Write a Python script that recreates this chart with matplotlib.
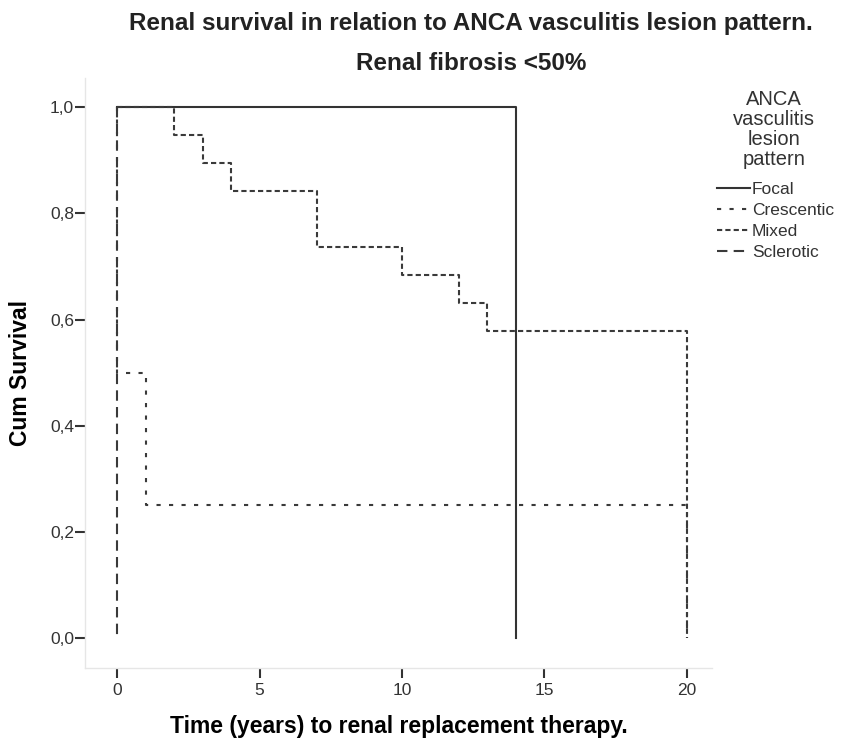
import matplotlib.pyplot as plt

plt.rcParams['font.family'] = ['Liberation Sans', 'DejaVu Sans']

# Kaplan-Meier step data (time in years, cumulative survival)
focal_t = [0, 14, 14]
focal_s = [1.0, 1.0, 0.0]

cresc_t = [0, 0, 1, 20]
cresc_s = [1.0, 0.5, 0.25, 0.0]

mixed_t = [0, 2, 3, 4, 7, 10, 12, 13, 20]
mixed_s = [1.0, 18/19, 17/19, 16/19, 14/19, 13/19, 12/19, 11/19, 0.0]

scler_t = [0, 0]
scler_s = [1.0, 0.0]

labels = ['Focal', 'Crescentic', 'Mixed', 'Sclerotic']
xticks = [0, 5, 10, 15, 20]
yticks = [0.0, 0.2, 0.4, 0.6, 0.8, 1.0]

fig = plt.figure(figsize=(8.46, 7.4), dpi=100)
ax = fig.add_axes([0.1005, 0.0973, 0.7415, 0.7973])

c = '#3a3a3a'
ax.plot(focal_t, focal_s, drawstyle='steps-post', color='#333333', lw=1.5, ls='-', label=labels[0])
ax.plot(cresc_t, cresc_s, drawstyle='steps-post', color=c, lw=1.5, ls=(0, (2, 4)), label=labels[1])
ax.plot(mixed_t, mixed_s, drawstyle='steps-post', color=c, lw=1.5, ls=(0, (2.5, 1.5)), label=labels[2])
ax.plot(scler_t, scler_s, drawstyle='steps-post', color=c, lw=1.5, ls=(0, (5, 3)), label=labels[3])

ax.set_xlim(-1.13, 20.9)
ax.set_ylim(-0.056, 1.055)
ax.set_xticks(xticks)
ax.set_yticks(yticks)
ax.set_yticklabels([f'{v:.1f}'.replace('.', ',') for v in yticks])
ax.tick_params(labelsize=12.5, length=7, width=1.5, pad=1, color='#333333', labelcolor='#333333')
ax.tick_params(axis='x', pad=4)

for side in ['top', 'right']:
    ax.spines[side].set_visible(False)
for side in ['left', 'bottom']:
    ax.spines[side].set_color('#e6e6e6')
    ax.spines[side].set_linewidth(1)

ax.set_xlabel('Time (years) to renal replacement therapy.', fontsize=16.5, fontweight='bold', labelpad=12)
ax.set_ylabel('Cum Survival', fontsize=16.5, fontweight='bold', labelpad=13)

fig.text(0.557, 0.968, 'Renal survival in relation to ANCA vasculitis lesion pattern.',
         ha='center', va='center', fontsize=17.5, fontweight='bold', color='#222222')
fig.text(0.557, 0.914, 'Renal fibrosis <50%', ha='center', va='center', fontsize=17.5,
         fontweight='bold', color='#222222')

# legend title drawn separately so its spacing can follow the original
fig.text(0.915, 1 - 129.5 / 740, 'ANCA\nvasculitis\nlesion\npattern', ha='center', va='center',
         fontsize=14.5, linespacing=1.05, color='#333333')

leg = ax.legend(loc='upper left', bbox_to_anchor=(717 / 846, 1 - 182 / 740),
                bbox_transform=fig.transFigure, frameon=False, fontsize=12.5,
                handlelength=1.9, handletextpad=0.1, labelspacing=0.33,
                borderaxespad=0, borderpad=0)
for t in leg.get_texts():
    t.set_color('#333333')

fig.savefig('out.png', dpi=100)
